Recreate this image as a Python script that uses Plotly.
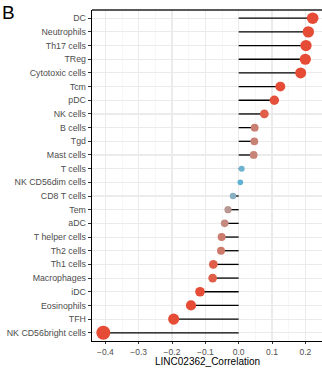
import plotly.graph_objects as go

cells = ["DC", "Neutrophils", "Th17 cells", "TReg", "Cytotoxic cells", "Tcm", "pDC",
         "NK cells", "B cells", "Tgd", "Mast cells", "T cells", "NK CD56dim cells",
         "CD8 T cells", "Tem", "aDC", "T helper cells", "Th2 cells", "Th1 cells",
         "Macrophages", "iDC", "Eosinophils", "TFH", "NK CD56bright cells"]
cor = [0.222, 0.209, 0.202, 0.200, 0.186, 0.125, 0.107, 0.077, 0.048, 0.047, 0.045,
       0.009, 0.005, -0.017, -0.032, -0.042, -0.051, -0.053, -0.076, -0.078, -0.116,
       -0.143, -0.195, -0.406]
x_ticks = [-0.4, -0.3, -0.2, -0.1, 0.0, 0.1, 0.2]
x_ticklabels = ["\u22120.4", "\u22120.3", "\u22120.2", "\u22120.1", "0.0", "0.1", "0.2"]
x_title = "LINC02362_Correlation"

abs_cor = [abs(v) for v in cor]
sizes = [4.6 + 14.8 * (a ** 0.5) for a in abs_cor]

seg_x, seg_y = [], []
for c, v in zip(cells, cor):
    seg_x += [0, v, None]
    seg_y += [c, c, None]

fig = go.Figure()
fig.add_trace(go.Scatter(x=seg_x, y=seg_y, mode="lines",
                         line=dict(color="black", width=1.3),
                         hoverinfo="skip", showlegend=False))
fig.add_trace(go.Scatter(
    x=cor, y=cells, mode="markers",
    marker=dict(size=sizes, color=abs_cor, cmin=0, cmax=0.12,
                colorscale=[[0, "#4DB3DB"], [0.15, "#8DB0C1"], [0.28, "#BE958F"],
                            [0.4, "#C98073"], [0.62, "#DF5E4A"], [1, "#E64B35"]],
                showscale=False, line=dict(width=0), opacity=1),
    showlegend=False))

fig.update_layout(
    width=322, height=368,
    margin=dict(l=92, r=0, t=10, b=27),
    plot_bgcolor="white", paper_bgcolor="white",
    hovermode=False,
    font=dict(family="Liberation Sans, Arial, sans-serif", color="#4D4D4D"),
    xaxis=dict(range=[-0.440, 0.250], tickvals=x_ticks, ticktext=x_ticklabels,
               tickfont=dict(size=8.5, color="#4D4D4D"),
               showgrid=True, gridcolor="#EBEBEB", gridwidth=1.1,
               minor=dict(dtick=0.05, tick0=0.05, showgrid=True, gridcolor="#F2F2F2", gridwidth=0.6),
               zeroline=False, showline=True, linecolor="black", linewidth=1.3,
               ticks="outside", ticklen=2, tickcolor="#333333", tickwidth=1),
    yaxis=dict(type="category", categoryorder="array", categoryarray=cells,
               tickvals=cells, ticktext=cells,
               range=[len(cells) - 0.4, -0.6],
               tickfont=dict(size=8.8, color="#4D4D4D"),
               showgrid=True, gridcolor="#EBEBEB", gridwidth=1.1,
               zeroline=False, showline=True, linecolor="black", linewidth=1.3,
               ticks="outside", ticklen=3, tickcolor="#333333", tickwidth=1),
    shapes=[dict(type="line", xref="paper", yref="paper", x0=0, x1=1, y0=1, y1=1,
                 line=dict(color="#222222", width=1.3))],
    annotations=[
        dict(text="B", xref="paper", yref="paper", x=-92/230, y=1 + 10/331,
             xanchor="left", yanchor="top", showarrow=False,
             font=dict(size=19, color="black")),
        dict(text=x_title, xref="paper", yref="paper", x=0.5, y=-27/331,
             xanchor="center", yanchor="bottom", showarrow=False, yshift=-1,
             font=dict(size=10, color="black")),
    ],
)

fig.write_html("out.html", config={"staticPlot": True})
